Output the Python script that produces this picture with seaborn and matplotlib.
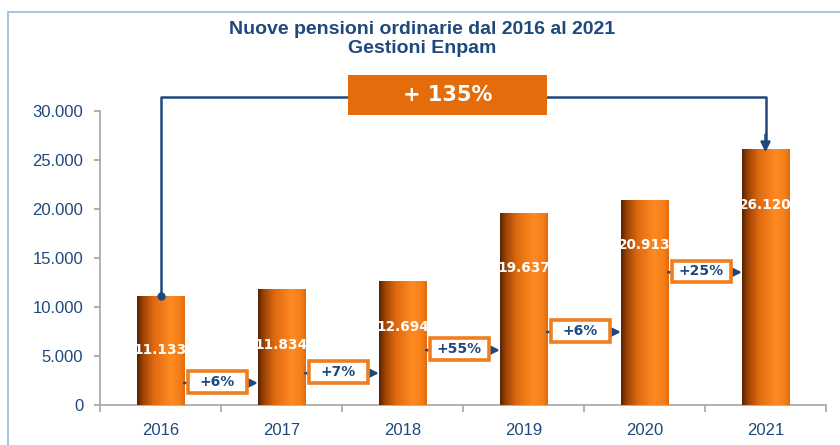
import numpy as np
import pandas as pd
import matplotlib.pyplot as plt
import seaborn as sns
from matplotlib.colors import LinearSegmentedColormap
from matplotlib.patches import Rectangle
from matplotlib.ticker import FuncFormatter

# dati
anni = ["2016", "2017", "2018", "2019", "2020", "2021"]
pensioni = [11133, 11834, 12694, 19637, 20913, 26120]
variazioni = ["+6%", "+7%", "+55%", "+6%", "+25%"]
variazione_totale = "+ 135%"

# stile
BLU = "#1f497d"
ARANCIO = "#e46c0a"
label_frac = [0.50, 0.52, 0.63, 0.71, 0.78, 0.78]   # altezza etichette valore (frazione barra)
freccia_y = [2250, 3250, 5600, 7450, 13550]          # altezza frecce tra le barre
bar_w = 0.39

sns.set_theme(style="white")
plt.rcParams["font.family"] = ["Liberation Sans", "DejaVu Sans"]

df = pd.DataFrame({"anno": anni, "pensioni": pensioni})

fig = plt.figure(figsize=(8.4, 4.45), dpi=100)
ax = fig.add_axes([100 / 840, 1 - 405 / 445, 726 / 840, 333 / 445])

sns.barplot(data=df, x="anno", y="pensioni", color=ARANCIO, width=bar_w,
            ax=ax, zorder=2)

# gradiente orizzontale sulle barre
cmap = LinearSegmentedColormap.from_list(
    "bar", [(0, "#552302"), (0.12, "#9c4205"), (0.35, "#de6a10"),
            (0.7, "#ff8a22"), (0.9, "#f47e18"), (1, "#e06a0c")])
grad = np.linspace(0, 1, 256).reshape(1, -1)
for p in ax.patches:
    x0, w, h = p.get_x(), p.get_width(), p.get_height()
    im = ax.imshow(grad, cmap=cmap, extent=[x0, x0 + w, 0, h], aspect="auto",
                   zorder=3)
    im.set_clip_path(p)
    p.set_edgecolor("#f5c9a0")
    p.set_linewidth(0.6)
ax.set_xlim(-0.5, len(anni) - 0.5)
ax.set_ylim(0, 34000)

# etichette valore
for i, (v, f) in enumerate(zip(pensioni, label_frac)):
    ax.text(i, v * f, f"{v:,}".replace(",", "."), ha="center", va="center",
            color="white", fontsize=9.8, fontweight="bold",
            family="DejaVu Sans", zorder=5)

# frecce e riquadri di variazione
for i, (txt, y) in enumerate(zip(variazioni, freccia_y)):
    ax.annotate("", xy=(i + 1 - bar_w / 2, y), xytext=(i + bar_w / 2, y),
                arrowprops=dict(arrowstyle="-|>", color=BLU, lw=1.8,
                                mutation_scale=12, shrinkA=0, shrinkB=0),
                zorder=4)
    cx = i + 0.47
    ax.add_patch(Rectangle((cx - 0.245, y - 1000), 0.49, 2200,
                           facecolor="white", edgecolor="#f07d1e", lw=2.6,
                           zorder=5))
    ax.text(cx, y + 100, txt, ha="center", va="center", color=BLU,
            fontsize=10, fontweight="bold", family="DejaVu Sans", zorder=6)

# parentesi superiore 2016 -> 2021
top_y = 31430
ax.plot([0, 0, len(anni) - 1, len(anni) - 1],
        [pensioni[0], top_y, top_y, pensioni[-1] + 900],
        color=BLU, lw=1.8, zorder=4, clip_on=False)
ax.plot(0, pensioni[0], "o", color=BLU, ms=5, zorder=6)
ax.annotate("", xy=(len(anni) - 1, pensioni[-1] - 300),
            xytext=(len(anni) - 1, pensioni[-1] + 1500),
            arrowprops=dict(arrowstyle="-|>", color=BLU, lw=1.8,
                            mutation_scale=14, shrinkA=0, shrinkB=0),
            zorder=6)
ax.add_patch(Rectangle((2.372 - 0.822, top_y + 200 - 2040), 1.645, 4080,
                       facecolor=ARANCIO, edgecolor="none", zorder=5,
                       clip_on=False))
ax.text(2.372, top_y + 200, variazione_totale, ha="center", va="center",
        color="white", fontsize=15, fontweight="bold", family="DejaVu Sans",
        zorder=6)

# assi
ax.set_xlabel("")
ax.set_ylabel("")
ax.set_yticks(range(0, 30001, 5000))
ax.yaxis.set_major_formatter(FuncFormatter(lambda v, _: f"{int(v):,}".replace(",", ".")))
ax.set_xticks(np.arange(-0.5, len(anni), 1), minor=True)
for s in ["top", "right"]:
    ax.spines[s].set_visible(False)
for s in ["left", "bottom"]:
    ax.spines[s].set_color("#a6a6a6")
    ax.spines[s].set_linewidth(1.2)
ax.spines["left"].set_bounds(0, 30000)
ax.tick_params(axis="y", which="major", left=True, length=4, color="#a6a6a6",
               labelsize=12, labelcolor=BLU, pad=8)
ax.tick_params(axis="x", which="major", bottom=False, labelsize=12,
               labelcolor=BLU, pad=7)
ax.tick_params(axis="x", which="minor", bottom=True, length=5,
               color="#a6a6a6", width=1.2)

# titolo
fig.text(422 / 840, 1 - 39 / 445,
         "Nuove pensioni ordinarie dal 2016 al 2021\nGestioni Enpam",
         ha="center", va="center", color=BLU, fontsize=14,
         fontweight="bold", linespacing=1.15)

# cornice esterna
fig.patches.append(Rectangle((8 / 840, -0.1), 1.1, 1 - 12 / 445 + 0.1,
                             transform=fig.transFigure, fill=False,
                             edgecolor="#9bb7d9", lw=1.2, zorder=0))

fig.savefig("out.png", dpi=100)
